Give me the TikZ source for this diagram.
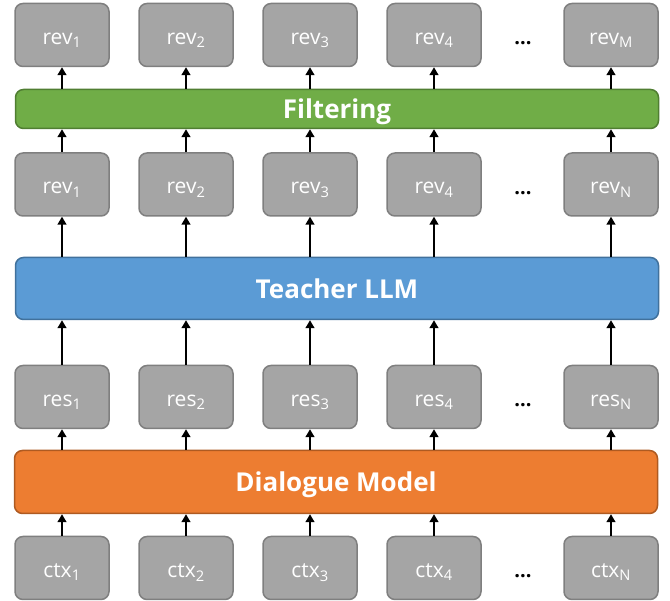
\documentclass[tikz,border=0pt]{standalone}
\usepackage{fontspec}
\setmainfont{Open Sans}
\usetikzlibrary{arrows.meta}
\definecolor{boxfill}{HTML}{A5A5A5}
\definecolor{boxline}{HTML}{7F7F7F}
\definecolor{gfill}{HTML}{70AD47}
\definecolor{gline}{HTML}{507E32}
\definecolor{bfill}{HTML}{5B9BD5}
\definecolor{bline}{HTML}{41719C}
\definecolor{ofill}{HTML}{ED7D31}
\definecolor{oline}{HTML}{AE5A21}
\begin{document}
\begin{tikzpicture}[x=1pt,y=-1pt,
  item/.style={draw=boxline, fill=boxfill, line width=1.5pt, rounded corners=8pt,
    minimum width=94pt, minimum height=63pt, inner sep=0pt, text=white,
    text height=19pt, text depth=0pt,
    font=\fontsize{21}{25}\selectfont},
  bar/.style={line width=1.5pt, rounded corners=8pt, minimum width=643pt,
    inner sep=0pt, text=white, text depth=0pt, font=\bfseries\fontsize{26}{30}\selectfont},
  dotsnode/.style={inner sep=0pt, font=\bfseries\fontsize{20}{24}\selectfont},
  arr/.style={line width=1.5pt, -{Triangle[length=8pt,width=9pt]}}]
\useasboundingbox (0,0) rectangle (670,601);

% bars
\node[bar, draw=gline, fill=gfill, minimum height=39pt] (filt) at (337,109) {Filtering};
\node[bar, draw=bline, fill=bfill, minimum height=62pt] (teach) at (337,288.5) {Teacher LLM};
\node[bar, draw=oline, fill=ofill, minimum height=63pt] (dial) at (336,482) {Dialogue Model};

% boxes
\foreach \i/\x in {1/62,2/186,3/310,4/434,N/611} {
  \node[item] (m\i) at (\x,184.5) {rev\textsubscript{\i}};
  \node[item] (r\i) at (\x,397) {res\textsubscript{\i}};
  \node[item] (c\i) at (\x,568) {ctx\textsubscript{\i}};
}
\foreach \i/\x in {1/62,2/186,3/310,4/434,M/611} {
  \node[item] (t\i) at (\x,35) {rev\textsubscript{\i}};
  \draw[arr] (filt.north -| t\i.south) -- (t\i.south);
}
\foreach \i in {1,2,3,4,N} {
  \draw[arr] (m\i.north) -- (filt.south -| m\i.north);
  \draw[arr] (teach.north -| m\i.south) -- (m\i.south);
  \draw[arr] (r\i.north) -- (teach.south -| r\i.north);
  \draw[arr] (dial.north -| r\i.south) -- (r\i.south);
  \draw[arr] (c\i.north) -- (dial.south -| c\i.north);
}

% dots
\node[dotsnode] (d1) at (523,43) {...};
\node[dotsnode] (d2) at (523,193) {...};
\node[dotsnode] (d3) at (523,405) {...};
\node[dotsnode] (d4) at (523,576) {...};
\end{tikzpicture}
\end{document}
